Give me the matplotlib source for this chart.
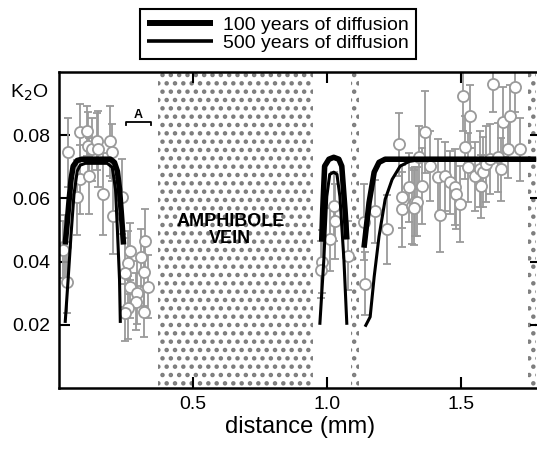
import numpy as np
import matplotlib
matplotlib.use("Agg")
import matplotlib.pyplot as plt

plt.rcParams["font.family"] = ["Liberation Sans", "DejaVu Sans"]
plt.rcParams["hatch.linewidth"] = 2.0

# ------------------------------------------------------------------
# DATA
# ------------------------------------------------------------------
# measured K2O, left of the vein
x_left = [0.023, 0.015, 0.030, 0.034, 0.068, 0.079, 0.079, 0.105, 0.109, 0.113,
          0.124, 0.143, 0.147, 0.165, 0.192, 0.199, 0.203, 0.237, 0.256, 0.267,
          0.248, 0.267, 0.305, 0.320, 0.316, 0.331, 0.293, 0.286, 0.256, 0.316,
          0.248]
y_left = [0.0448, 0.0438, 0.0337, 0.0746, 0.0603, 0.0810, 0.0660, 0.0813, 0.0765, 0.0670,
          0.0756, 0.0781, 0.0756, 0.0613, 0.0781, 0.0746, 0.0543, 0.0606, 0.0397, 0.0432,
          0.0365, 0.0321, 0.0413, 0.0465, 0.0368, 0.0321, 0.0302, 0.0273, 0.0254, 0.0241,
          0.0238]
e_left = [0.010, 0.009, 0.010, 0.011, 0.012, 0.009, 0.011, 0.008, 0.011, 0.012,
          0.010, 0.009, 0.012, 0.013, 0.011, 0.009, 0.012, 0.012, 0.010, 0.009,
          0.011, 0.010, 0.009, 0.010, 0.011, 0.010, 0.010, 0.009, 0.010, 0.008,
          0.009]

# measured K2O, right of the vein
x_right = [0.981, 0.977, 1.026, 1.030, 1.011, 1.079, 1.143, 1.139, 1.180, 1.226,
           1.271, 1.282, 1.308, 1.282, 1.320, 1.331, 1.346, 1.357, 1.368, 1.387,
           1.414, 1.421, 1.440, 1.459, 1.477, 1.481, 1.496, 1.508, 1.515, 1.526,
           1.534, 1.553, 1.571, 1.575, 1.583, 1.594, 1.609, 1.620, 1.639, 1.650,
           1.658, 1.677, 1.684, 1.703, 1.722, 1.338, 1.327]
y_right = [0.0400, 0.0375, 0.0575, 0.0527, 0.0470, 0.0419, 0.0330, 0.0524, 0.0559, 0.0502,
           0.0771, 0.0565, 0.0635, 0.0606, 0.0575, 0.0590, 0.0730, 0.0638, 0.0810, 0.0702,
           0.0667, 0.0549, 0.0670, 0.0651, 0.0635, 0.0613, 0.0581, 0.0924, 0.0762, 0.0698,
           0.0860, 0.0670, 0.0692, 0.0638, 0.0683, 0.0708, 0.0724, 0.0962, 0.0730, 0.0692,
           0.0841, 0.0756, 0.0860, 0.0952, 0.0756, 0.0590, 0.0571]
e_right = [0.010, 0.009, 0.011, 0.012, 0.010, 0.011, 0.010, 0.012, 0.010, 0.011,
           0.010, 0.012, 0.011, 0.010, 0.012, 0.011, 0.010, 0.012, 0.013, 0.011,
           0.012, 0.012, 0.011, 0.010, 0.012, 0.011, 0.012, 0.011, 0.010, 0.011,
           0.010, 0.011, 0.012, 0.010, 0.011, 0.012, 0.011, 0.009, 0.011, 0.010,
           0.011, 0.009, 0.010, 0.008, 0.010, 0.011, 0.012]

# diffusion model, 100 years (three segments)
m100_x1 = [0.023, 0.030, 0.038, 0.045, 0.053, 0.068, 0.086, 0.192, 0.207, 0.218, 0.226, 0.233, 0.241]
m100_y1 = [0.0454, 0.0517, 0.0597, 0.0660, 0.0702, 0.0720, 0.0724, 0.0724, 0.0714, 0.0686, 0.0629, 0.0550, 0.0454]
m100_x2 = [0.981, 0.985, 0.992, 1.008, 1.026, 1.045, 1.056, 1.068, 1.075]
m100_y2 = [0.0463, 0.0565, 0.0702, 0.0724, 0.0730, 0.0724, 0.0702, 0.0565, 0.0470]
m100_x3 = [1.139, 1.158, 1.177, 1.195, 1.218, 1.782]
m100_y3 = [0.0444, 0.0587, 0.0683, 0.0714, 0.0724, 0.0724]

# diffusion model, 500 years
m500_x1 = [0.023, 0.034, 0.045, 0.056, 0.068, 0.079, 0.098, 0.180, 0.199, 0.211, 0.218, 0.226, 0.229]
m500_y1 = [0.0206, 0.0343, 0.0486, 0.0613, 0.0686, 0.0705, 0.0711, 0.0711, 0.0698, 0.0629, 0.0502, 0.0343, 0.0206]
m500_x2 = [0.974, 0.989, 1.000, 1.011, 1.026, 1.038, 1.049, 1.064, 1.075]
m500_y2 = [0.0200, 0.0406, 0.0606, 0.0676, 0.0683, 0.0676, 0.0606, 0.0406, 0.0200]
m500_x3 = [1.143, 1.162, 1.177, 1.195, 1.218, 1.244, 1.274, 1.308, 1.357, 1.782]
m500_y3 = [0.0194, 0.0225, 0.0352, 0.0479, 0.0597, 0.0660, 0.0702, 0.0717, 0.0724, 0.0724]

# shaded (amphibole) bands
bands = [(0.37, 0.95), (1.09, 1.12), (1.752, 1.782)]

x_ticks = [0.5, 1.0, 1.5]
y_ticks = [0.02, 0.04, 0.06, 0.08]

# ------------------------------------------------------------------
# PLOT
# ------------------------------------------------------------------
fig = plt.figure(figsize=(5.37, 4.49), dpi=100)
ax = fig.add_axes([59 / 537, 1 - 388 / 449, 482 / 537, 316 / 449])

for x0, x1 in bands:
    ax.axvspan(x0, x1, facecolor="white", edgecolor="#7c7c7c", hatch="..",
               linewidth=0, zorder=1)

grey = "#9a9a9a"
for xs, ys, es in [(x_left, y_left, e_left), (x_right, y_right, e_right)]:
    ax.errorbar(xs, ys, yerr=es, fmt="o", ms=8, mfc="white", mec=grey, mew=1.3,
                ecolor=grey, elinewidth=1.3, capsize=3, capthick=1.3, zorder=2)

for xs, ys in [(m100_x1, m100_y1), (m100_x2, m100_y2), (m100_x3, m100_y3)]:
    ax.plot(xs, ys, color="black", lw=4.0, solid_capstyle="butt", zorder=4)
for xs, ys in [(m500_x1, m500_y1), (m500_x2, m500_y2), (m500_x3, m500_y3)]:
    ax.plot(xs, ys, color="black", lw=2.2, solid_capstyle="butt", zorder=3)

# "A" bracket
ax.plot([0.252, 0.252, 0.342, 0.342], [0.0832, 0.0841, 0.0841, 0.0832], color="black", lw=1.3)
ax.text(0.297, 0.0846, "A", ha="center", va="bottom", fontsize=9, fontweight="bold")

ax.text(0.64, 0.050, "AMPHIBOLE\nVEIN", ha="center", va="center", fontsize=13,
        fontweight="bold", linespacing=0.95, zorder=5)

ax.set_xlim(0, 1.8)
ax.set_ylim(0, 0.1)
ax.set_xticks(x_ticks)
ax.set_xticklabels(["0.5", "1.0", "1.5"])
ax.set_yticks(y_ticks)
ax.set_yticklabels(["0.02", "0.04", "0.06", "0.08"])
ax.tick_params(direction="in", length=8, width=1.5, labelsize=14, top=True, right=True, pad=6)
for s in ax.spines.values():
    s.set_linewidth(1.8)
ax.set_xlabel("distance (mm)", fontsize=17, labelpad=2)

fig.text(10 / 537, 1 - 93 / 449, "K$_2$O", fontsize=14, ha="left", va="center")

h100, = ax.plot([], [], color="black", lw=4.3, solid_capstyle="butt")
h500, = ax.plot([], [], color="black", lw=2.6, solid_capstyle="butt")
leg = fig.legend([h100, h500], ["100 years of diffusion", "500 years of diffusion"],
                 loc="center", bbox_to_anchor=(278 / 537, 1 - 34 / 449), fontsize=14,
                 frameon=True, fancybox=False, edgecolor="black", framealpha=1,
                 handlelength=3.4, handletextpad=0.5, borderpad=0.35, labelspacing=0.05,
                 borderaxespad=0)
leg.get_frame().set_linewidth(1.5)

fig.savefig("out.png", dpi=100)
